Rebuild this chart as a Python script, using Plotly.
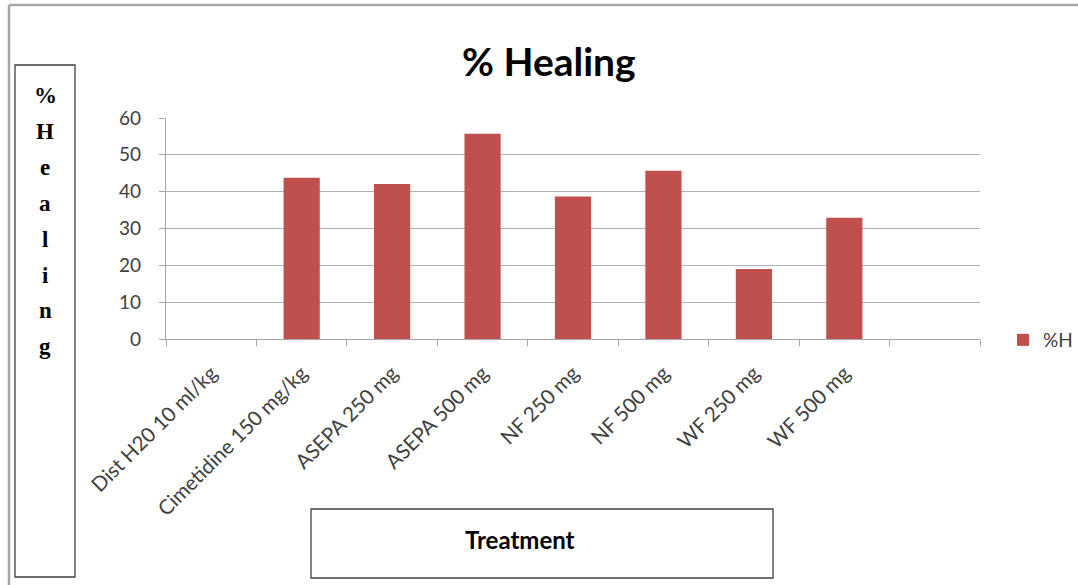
import plotly.graph_objects as go

categories = ["Dist H20 10 ml/kg", "Cimetidine 150 mg/kg", "ASEPA 250 mg", "ASEPA 500 mg",
              "NF 250 mg", "NF 500 mg", "WF 250 mg", "WF 500 mg", " "]
healing = [0, 43.8, 42.1, 55.7, 38.7, 45.7, 19.0, 32.9, None]
series_name = "%H"
y_ticks = [0, 10, 20, 30, 40, 50, 60]
y_title_letters = ["%", "H", "e", "a", "l", "i", "n", "g"]

W, H = 1078, 585
L, R, T, B = 166, 980, 118, 339
pw, ph = R - L, B - T

def px(x):
    return (x - L) / pw

def py(y):
    return (B - y) / ph

fig = go.Figure()
fig.add_trace(go.Bar(x=categories, y=healing, name=series_name,
                     marker=dict(color="#c0504d", line=dict(width=0))))

shapes = [
    dict(type="line", xref="paper", yref="paper", x0=px(9), x1=px(9), y0=py(5), y1=py(585),
         line=dict(color="#a6a6a6", width=2.5)),
    dict(type="line", xref="paper", yref="paper", x0=px(9), x1=px(1080), y0=py(5), y1=py(5),
         line=dict(color="#a6a6a6", width=2.5)),
    dict(type="rect", xref="paper", yref="paper", x0=px(15), x1=px(75), y0=py(65), y1=py(577),
         line=dict(color="#404040", width=1.3), fillcolor="rgba(0,0,0,0)"),
    dict(type="rect", xref="paper", yref="paper", x0=px(311), x1=px(773), y0=py(509), y1=py(578),
         line=dict(color="#404040", width=1.3), fillcolor="rgba(0,0,0,0)"),
]

annotations = [
    dict(text="<b>% Healing</b>", xref="paper", yref="paper", x=px(549), y=py(61),
         showarrow=False, xanchor="center", yanchor="middle",
         font=dict(family="Lato", size=39, color="#000000")),
    dict(text="<b>Treatment</b>", xref="paper", yref="paper", x=px(520), y=py(539),
         showarrow=False, xanchor="center", yanchor="middle",
         font=dict(family="Lato", size=24, color="#000000")),
]
for i, ch in enumerate(y_title_letters):
    annotations.append(dict(text="<b>%s</b>" % ch, xref="paper", yref="paper",
                            x=px(45), y=py(96 + i * 35.8), showarrow=False,
                            xanchor="center", yanchor="middle",
                            font=dict(family="Liberation Serif", size=23, color="#000000")))

fig.update_layout(
    width=W, height=H,
    margin=dict(l=L, r=W - R, t=T, b=H - B, autoexpand=False),
    paper_bgcolor="white", plot_bgcolor="white",
    bargap=0.6,
    showlegend=True,
    legend=dict(x=px(1003), y=py(340), xanchor="left", yanchor="middle",
                font=dict(family="Lato", size=19, color="#404040"),
                bgcolor="rgba(0,0,0,0)", itemwidth=30),
    shapes=shapes,
    annotations=annotations,
    font=dict(family="Lato"),
)
fig.update_xaxes(
    type="category", categoryorder="array", categoryarray=categories,
    tickangle=-45, tickfont=dict(family="Lato", size=20.5, color="#404040"),
    showline=True, linecolor="#a6a6a6", linewidth=1.3,
    ticks="outside", tickson="boundaries", ticklen=6, tickcolor="#a6a6a6",
    ticklabelstandoff=13,
    showgrid=False, range=[-0.5, 8.5],
)
fig.update_yaxes(
    range=[0, 60], tickvals=y_ticks, tickfont=dict(family="Lato", size=19, color="#404040"),
    showgrid=True, gridcolor="#b0b0b0", gridwidth=1.3,
    showline=True, linecolor="#a6a6a6", linewidth=1.3,
    ticks="outside", ticklen=6, tickcolor="#a6a6a6", ticklabelstandoff=14,
    zeroline=False,
)

fig.write_html("out.html")
